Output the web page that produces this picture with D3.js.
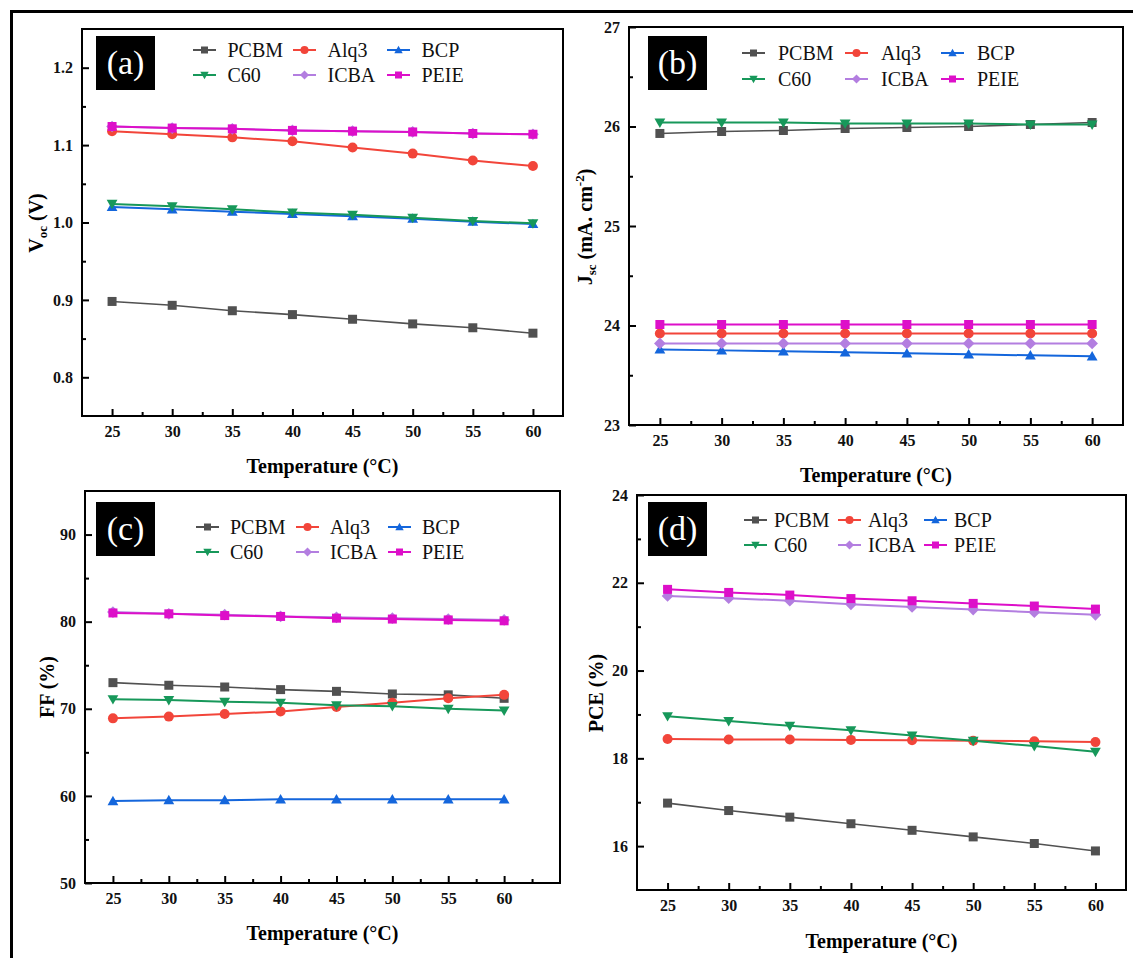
<!DOCTYPE html>
<html>
<head>
<meta charset="utf-8">
<script src="https://cdn.jsdelivr.net/npm/d3@7"></script>
<style>
  body { margin: 0; background: #fff; }
</style>
</head>
<body>
<script>
'use strict';

const SERIF = "'Liberation Serif', 'Times New Roman', 'DejaVu Serif', serif";

// temperatures on the x axis
const temps = [25, 30, 35, 40, 45, 50, 55, 60];
const seriesNames = ["PCBM", "Alq3", "BCP", "C60", "ICBA", "PEIE"];
const seriesColors = ["#515151", "#f2453a", "#1466dc", "#17985a", "#b37ee0", "#dd0fc9"];
const seriesShapes = ["square", "circle", "triangle", "triangleDown", "diamond", "square"];

// (a) Voc (V), in seriesNames order
const vocValues = [
  [0.898, 0.893, 0.886, 0.881, 0.875, 0.869, 0.864, 0.857],
  [1.118, 1.114, 1.110, 1.105, 1.097, 1.089, 1.080, 1.073],
  [1.020, 1.017, 1.014, 1.011, 1.008, 1.005, 1.001, 0.998],
  [1.024, 1.021, 1.017, 1.013, 1.010, 1.006, 1.002, 0.999],
  [1.124, 1.122, 1.121, 1.119, 1.118, 1.117, 1.115, 1.114],
  [1.124, 1.122, 1.121, 1.119, 1.118, 1.117, 1.115, 1.114]
];
// (b) Jsc (mA cm-2)
const jscValues = [
  [25.93, 25.95, 25.96, 25.98, 25.99, 26.00, 26.02, 26.04],
  [23.92, 23.92, 23.92, 23.92, 23.92, 23.92, 23.92, 23.92],
  [23.76, 23.75, 23.74, 23.73, 23.72, 23.71, 23.70, 23.69],
  [26.04, 26.04, 26.04, 26.03, 26.03, 26.03, 26.02, 26.02],
  [23.82, 23.82, 23.82, 23.82, 23.82, 23.82, 23.82, 23.82],
  [24.01, 24.01, 24.01, 24.01, 24.01, 24.01, 24.01, 24.01]
];
// (c) FF (%)
const ffValues = [
  [73.0, 72.7, 72.5, 72.2, 72.0, 71.7, 71.6, 71.2],
  [68.9, 69.1, 69.4, 69.7, 70.2, 70.7, 71.2, 71.6],
  [59.4, 59.5, 59.5, 59.6, 59.6, 59.6, 59.6, 59.6],
  [71.1, 71.0, 70.8, 70.7, 70.4, 70.3, 70.0, 69.8],
  [81.1, 80.9, 80.8, 80.6, 80.5, 80.4, 80.3, 80.2],
  [81.0, 80.9, 80.7, 80.6, 80.4, 80.3, 80.2, 80.1]
];
// (d) PCE (%) - BCP is not plotted in this panel
const pceValues = [
  [16.98, 16.81, 16.66, 16.51, 16.36, 16.21, 16.06, 15.89],
  [18.44, 18.43, 18.43, 18.42, 18.41, 18.40, 18.39, 18.37],
  [],
  [18.96, 18.85, 18.74, 18.64, 18.52, 18.40, 18.28, 18.15],
  [21.70, 21.65, 21.59, 21.51, 21.45, 21.39, 21.33, 21.27],
  [21.85, 21.78, 21.72, 21.64, 21.59, 21.53, 21.47, 21.40]
];

// axis ticks
const xMajor = [25, 30, 35, 40, 45, 50, 55, 60];
const xMinor = [27.5, 32.5, 37.5, 42.5, 47.5, 52.5, 57.5];
const xMinorC = [27.5, 32.5, 37.5, 42.5, 47.5, 52.5, 57.5, 62.5];
const vocTicks = [0.8, 0.9, 1.0, 1.1, 1.2];
const vocMinor = [0.85, 0.95, 1.05, 1.15];
const jscTicks = [23, 24, 25, 26, 27];
const jscMinor = [23.5, 24.5, 25.5, 26.5];
const ffTicks = [50, 60, 70, 80, 90];
const ffMinor = [55, 65, 75, 85];
const pceTicks = [16, 18, 20, 22, 24];
const pceMinor = [17, 19, 21, 23];

const svg = d3.select("body").append("svg")
  .attr("width", 1133)
  .attr("height", 958)
  .style("font-family", SERIF);

// outer frame (only top and left edges are visible)
svg.append("path")
  .attr("d", "M11.5,958 V11.5 H1133")
  .attr("fill", "none")
  .attr("stroke", "#000")
  .attr("stroke-width", 3);

const panels = [
  { tag: "(a)", values: vocValues, left: 82, top: 29, right: 563, bottom: 416,
    xDomain: [22.5, 62.5], xMinor: xMinor, yDomain: [0.75, 1.25], yTicks: vocTicks, yMinor: vocMinor,
    yFmt: d3.format(".1f"), box: [96, 36], legend: [193, 50, 75, [0, 100, 194], 34.5],
    yTitle: "voc", yTitlePos: [43, 223], xTitleY: 473 },
  { tag: "(b)", values: jscValues, left: 629, top: 27, right: 1123, bottom: 425,
    xDomain: [22.5, 62.5], xMinor: xMinor, yDomain: [23, 27], yTicks: jscTicks, yMinor: jscMinor,
    yFmt: d3.format("d"), box: [648, 36], legend: [742, 53, 79, [0, 103, 199], 36],
    yTitle: "jsc", yTitlePos: [592, 227], xTitleY: 482 },
  { tag: "(c)", values: ffValues, left: 85, top: 491, right: 560, bottom: 883,
    xDomain: [22.5, 65], xMinor: xMinorC, yDomain: [50, 95], yTicks: ffTicks, yMinor: ffMinor,
    yFmt: d3.format("d"), box: [96, 502], legend: [196, 527, 552, [0, 100, 192], 34],
    yTitle: "ff", yTitlePos: [54, 687], xTitleY: 940 },
  { tag: "(d)", values: pceValues, left: 637, top: 495, right: 1126, bottom: 890,
    xDomain: [22.5, 62.5], xMinor: xMinor, yDomain: [15, 24], yTicks: pceTicks, yMinor: pceMinor,
    yFmt: d3.format("d"), box: [648, 502], legend: [744, 520, 545, [0, 94, 180], 30],
    yTitle: "pce", yTitlePos: [603, 693], xTitleY: 948 }
];

panels.forEach(drawPanel);

function markerPath(shape, size) {
  let s = size;
  if (shape === "square") {
    return `M${-s / 2},${-s / 2}H${s / 2}V${s / 2}H${-s / 2}Z`;
  } else if (shape === "circle") {
    let r = s / 2 + 0.5;
    return `M${r},0A${r},${r} 0 1,1 ${-r},0A${r},${r} 0 1,1 ${r},0Z`;
  } else if (shape === "triangle") {
    return `M0,${-s * 0.6}L${s * 0.6},${s * 0.45}L${-s * 0.6},${s * 0.45}Z`;
  } else if (shape === "triangleDown") {
    return `M0,${s * 0.6}L${s * 0.6},${-s * 0.45}L${-s * 0.6},${-s * 0.45}Z`;
  } else {
    let d = s * 0.65;
    return `M0,${-d}L${d},0L0,${d}L${-d},0Z`;
  }
}

function drawPanel(p) {
  let g = svg.append("g");

  let x = d3.scaleLinear().domain(p.xDomain).range([p.left, p.right]);
  let y = d3.scaleLinear().domain(p.yDomain).range([p.bottom, p.top]);

  // major + minor ticks, pointing inward
  g.append("g")
    .attr("transform", `translate(0,${p.bottom})`)
    .call(d3.axisBottom(x).tickValues(xMajor).tickFormat(d3.format("d"))
      .tickSizeInner(-7).tickSizeOuter(0).tickPadding(10));
  g.append("g")
    .attr("transform", `translate(0,${p.bottom})`)
    .call(d3.axisBottom(x).tickValues(p.xMinor).tickFormat("")
      .tickSizeInner(-4).tickSizeOuter(0));

  g.append("g")
    .attr("transform", `translate(${p.left},0)`)
    .call(d3.axisLeft(y).tickValues(p.yTicks).tickFormat(p.yFmt)
      .tickSizeInner(-7).tickSizeOuter(0).tickPadding(9));
  g.append("g")
    .attr("transform", `translate(${p.left},0)`)
    .call(d3.axisLeft(y).tickValues(p.yMinor).tickFormat("")
      .tickSizeInner(-4).tickSizeOuter(0));

  g.selectAll(".domain").remove();
  g.selectAll("g").attr("font-family", null).attr("font-size", null);
  g.selectAll(".tick line").attr("stroke", "#000").attr("stroke-width", 2);
  g.selectAll(".tick text")
    .style("font-family", SERIF)
    .style("font-size", "16px")
    .style("font-weight", "bold")
    .attr("fill", "#111");

  // plot frame
  g.append("rect")
    .attr("x", p.left)
    .attr("y", p.top)
    .attr("width", p.right - p.left)
    .attr("height", p.bottom - p.top)
    .attr("fill", "none")
    .attr("stroke", "#000")
    .attr("stroke-width", 2);

  // series lines and markers
  let line = d3.line()
    .x((d, i) => x(temps[i]))
    .y((d) => y(d));

  p.values.forEach((vals, k) => {
    if (vals.length === 0) return;
    g.append("path")
      .datum(vals)
      .attr("fill", "none")
      .attr("stroke", seriesColors[k])
      .attr("stroke-width", k === 0 ? 1.6 : 2)
      .attr("d", line);
    g.selectAll(".m" + k)
      .data(vals)
      .enter()
      .append("path")
      .attr("class", "m" + k)
      .attr("transform", (d, i) => `translate(${x(temps[i])},${y(d)})`)
      .attr("d", markerPath(seriesShapes[k], 9))
      .attr("fill", seriesColors[k]);
  });

  // panel tag box
  g.append("rect")
    .attr("x", p.box[0])
    .attr("y", p.box[1])
    .attr("width", 59)
    .attr("height", 54)
    .attr("fill", "#000");
  g.append("text")
    .attr("x", p.box[0] + 29.5)
    .attr("y", p.box[1] + 38)
    .attr("text-anchor", "middle")
    .attr("fill", "#fff")
    .style("font-family", SERIF)
    .style("font-size", "34px")
    .text(p.tag);

  // legend: 3 columns x 2 rows
  let lg = p.legend;
  seriesNames.forEach((name, k) => {
    let cx = lg[0] + lg[3][k % 3];
    let cy = k < 3 ? lg[1] : lg[2];
    g.append("line")
      .attr("x1", cx).attr("x2", cx + 23)
      .attr("y1", cy).attr("y2", cy)
      .attr("stroke", seriesColors[k])
      .attr("stroke-width", 2);
    g.append("path")
      .attr("transform", `translate(${cx + 11.5},${cy})`)
      .attr("d", markerPath(seriesShapes[k], 7))
      .attr("fill", seriesColors[k]);
    g.append("text")
      .attr("x", cx + lg[4])
      .attr("y", cy + 7)
      .style("font-family", SERIF)
      .style("font-size", "20px")
      .attr("fill", "#111")
      .text(name);
  });

  // axis titles
  g.append("text")
    .attr("x", (p.left + p.right) / 2)
    .attr("y", p.xTitleY)
    .attr("text-anchor", "middle")
    .style("font-family", SERIF)
    .style("font-size", "20px")
    .style("font-weight", "bold")
    .text("Temperature (°C)");

  let yt = g.append("text")
    .attr("transform", `translate(${p.yTitlePos[0]},${p.yTitlePos[1]})rotate(-90)`)
    .attr("text-anchor", "middle")
    .style("font-family", SERIF)
    .style("font-size", "20px")
    .style("font-weight", "bold");
  if (p.yTitle === "voc") {
    yt.append("tspan").text("V");
    yt.append("tspan").attr("dy", 4).style("font-size", "13px").text("oc");
    yt.append("tspan").attr("dy", -4).text(" (V)");
  } else if (p.yTitle === "jsc") {
    yt.append("tspan").text("J");
    yt.append("tspan").attr("dy", 4).style("font-size", "13px").text("sc");
    yt.append("tspan").attr("dy", -4).text(" (mA. cm");
    yt.append("tspan").attr("dy", -8).style("font-size", "13px").text("-2");
    yt.append("tspan").attr("dy", 8).text(")");
  } else if (p.yTitle === "ff") {
    yt.text("FF (%)");
  } else {
    yt.text("PCE (%)");
  }
}
</script>
</body>
</html>
